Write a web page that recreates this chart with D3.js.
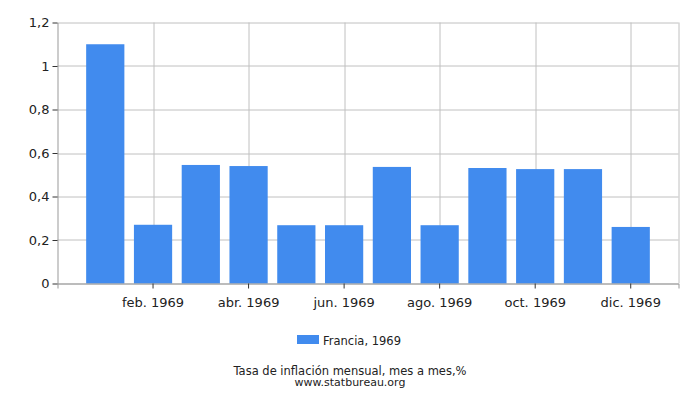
<!DOCTYPE html>
<html>
<head>
<meta charset="utf-8">
<script src="https://cdn.jsdelivr.net/npm/d3@7"></script>
<style>
  body { margin: 0; background: #fff; }
  text { font-family: "DejaVu Sans", Verdana, sans-serif; }
</style>
</head>
<body>
<div id="chart"></div>
<script>
// monthly inflation, France 1969
var months = ["ene. 1969", "feb. 1969", "mar. 1969", "abr. 1969", "may. 1969", "jun. 1969",
              "jul. 1969", "ago. 1969", "sep. 1969", "oct. 1969", "nov. 1969", "dic. 1969"]
var rates = [1.1, 0.27, 0.545, 0.54, 0.268, 0.268, 0.536, 0.268, 0.531, 0.526, 0.526, 0.26]
var yTicks = [0, 0.2, 0.4, 0.6, 0.8, 1, 1.2]
var seriesName = "Francia, 1969"
var title = "Tasa de inflación mensual, mes a mes,%"
var source = "www.statbureau.org"

const margin = { top: 22.5, right: 21.5, bottom: 116.5, left: 57.5 };
const width = 700 - margin.left - margin.right
const height = 400 - margin.top - margin.bottom

var svg = d3.select("#chart")
    .append("svg")
    .attr("width", 700)
    .attr("height", 400)

var g = svg.append("g")
    .attr("transform", `translate(${margin.left},${margin.top})`)

const x = d3.scaleBand()
    .domain(months)
    .range([0, width])
    .paddingInner(0.2)
    .paddingOuter(0.6)

const y = d3.scaleLinear()
    .domain([0, 1.2])
    .range([height, 0])

const fmt = d => d3.format("~g")(d).replace(".", ",")
const shown = months.filter((m, i) => i % 2 == 1)

// grid
g.append("g")
    .selectAll("line")
    .data(yTicks)
    .enter().append("line")
    .attr("x1", 0).attr("x2", width)
    .attr("y1", d => Math.round(y(d)) + 0.5).attr("y2", d => Math.round(y(d)) + 0.5)
    .attr("stroke", "#c0c0c0")

g.append("g")
    .selectAll("line")
    .data(shown)
    .enter().append("line")
    .attr("x1", d => Math.round(x(d) + x.bandwidth() / 2) + 0.5)
    .attr("x2", d => Math.round(x(d) + x.bandwidth() / 2) + 0.5)
    .attr("y1", 0).attr("y2", height)
    .attr("stroke", "#c0c0c0")

g.append("line")
    .attr("x1", width + 0.5).attr("x2", width + 0.5)
    .attr("y1", 0).attr("y2", height)
    .attr("stroke", "#c0c0c0")

// bars
g.append("g")
    .selectAll("rect")
    .data(rates)
    .enter().append("rect")
    .attr("x", (d, i) => x(months[i]))
    .attr("y", d => y(d))
    .attr("width", x.bandwidth())
    .attr("height", d => height - y(d))
    .attr("fill", "#418bee")

// axes
var xAxis = g.append("g")
    .attr("transform", `translate(0,${height})`)
    .call(d3.axisBottom(x).tickValues(shown).tickSize(5).tickSizeOuter(5))
xAxis.select(".domain").attr("stroke", "#999")
xAxis.selectAll(".tick line").attr("stroke", "#333")
xAxis.selectAll("text").attr("font-size", 13).attr("fill", "#222").attr("dy", "1.2em")

var yAxis = g.append("g")
    .call(d3.axisLeft(y).tickValues(yTicks).tickFormat(fmt).tickSize(5).tickSizeOuter(0))
yAxis.select(".domain").attr("stroke", "#999")
yAxis.selectAll(".tick line").attr("stroke", "#333")
yAxis.selectAll("text").attr("font-size", 13).attr("fill", "#222")

// legend
svg.append("rect")
    .attr("x", 297).attr("y", 335)
    .attr("width", 22).attr("height", 9)
    .attr("fill", "#418bee")
svg.append("text")
    .attr("x", 323).attr("y", 344.5)
    .attr("font-size", 11.5)
    .attr("fill", "#222")
    .text(seriesName)

svg.append("text")
    .attr("x", 350).attr("y", 375)
    .attr("text-anchor", "middle")
    .attr("font-size", 11.5)
    .attr("fill", "#222")
    .text(title)
svg.append("text")
    .attr("x", 350).attr("y", 385.5)
    .attr("text-anchor", "middle")
    .attr("font-size", 11)
    .attr("fill", "#222")
    .text(source)
</script>
</body>
</html>
